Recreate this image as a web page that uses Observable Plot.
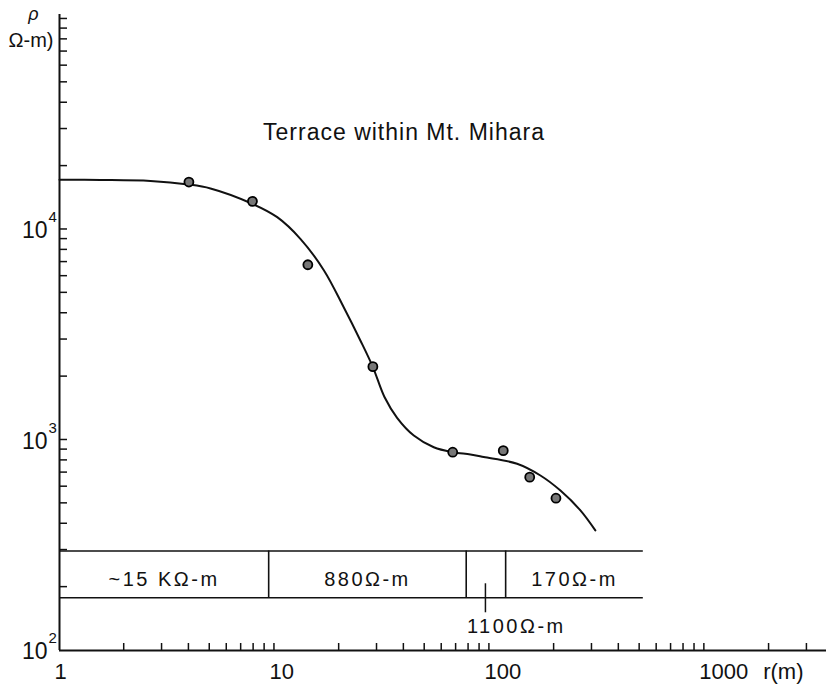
<!DOCTYPE html>
<html><head><meta charset="utf-8">
<script src="https://cdn.jsdelivr.net/npm/d3@7"></script>
<script src="https://cdn.jsdelivr.net/npm/@observablehq/plot@0.6"></script>
<style>html,body{margin:0;padding:0;background:#fff;} svg{display:block}</style>
</head><body><div id="chart"></div>
<script>
// ---- data ----
const title = "Terrace within Mt. Mihara";
const yLabelTop = "ρ";
const yLabelUnit = "Ω-m)";
const xUnit = "r(m)";

// observed apparent resistivity (points)
const obsR   = [4, 7.9, 14.3, 28.7, 67.5, 116, 154, 204];
const obsRho = [16800, 13600, 6800, 2230, 875, 890, 666, 529];

// theoretical (fitted) curve
const fitR   = [1, 1.55, 2.65, 3.97, 5.04, 7.88, 10.3, 13.2, 17.0, 21.0, 25.1, 28.7, 32.5, 37.2, 44.5, 55.1, 67.5, 81.6, 94.1, 134.5, 172.7, 214, 265, 311];
const fitRho = [17220, 17190, 17000, 16360, 15660, 13250, 11440, 9030, 6390, 4270, 2970, 2220, 1600, 1275, 1050, 924, 875, 853, 830, 771, 678, 575, 463, 372];

// layer model (boundaries in r, labels)
const layerBounds = [1, 9.4, 78, 119, 520];
const layerLabels = ["~15 KΩ-m", "880Ω-m", "1100Ω-m", "170Ω-m"];
const tableRho = [178, 297];   // extent of the layer strip on the rho axis

// axes
const xDomain = [1, 3700];
const yDomain = [100, 1.05e5];
const xMajor = [1, 10, 100, 1000];
const xTickLabels = ["1", "10", "100", "1000"];
const yMajor = [100, 1000, 10000];
const yExpLabels = ["2", "3", "4"];

// ---- derived ----
const ink = "#111";
const points = obsR.map((r, i) => ({r, rho: obsRho[i]}));
const fit = fitR.map((r, i) => ({r, rho: fitRho[i]}));
const layers = layerLabels.map((label, i) => ({
  label, from: layerBounds[i], to: layerBounds[i + 1],
  mid: Math.sqrt(layerBounds[i] * layerBounds[i + 1])
}));
const thinLayer = layers[2];
const bandLayers = layers.filter(d => d !== thinLayer);
const bandMid = Math.sqrt(tableRho[0] * tableRho[1]);

const xMinor = [];
for (const p of [1, 10, 100, 1000]) for (let k = 1; k <= 9; k++) { const v = k * p; if (v > 1 && v <= xDomain[1]) xMinor.push(v); }
const yMinor = [];
for (const p of [100, 1000, 10000, 100000]) for (let k = 1; k <= 9; k++) { const v = k * p; if (v > 100 && v <= yDomain[1]) yMinor.push(v); }

function ticksMark(index, scales) {
  const {x, y} = scales;
  const g = d3.create("svg:g").attr("stroke", ink).attr("stroke-width", 1.5).attr("fill", "none");
  const x0 = x(xDomain[0]), y0 = y(yDomain[0]);
  for (const v of xMinor) g.append("line").attr("x1", x(v)).attr("x2", x(v)).attr("y1", y0).attr("y2", y0 - 7);
  for (const v of yMinor) g.append("line").attr("x1", x0).attr("x2", x0 + 8).attr("y1", y(v)).attr("y2", y(v));
  const lx = x(thinLayer.mid);
  g.append("line").attr("x1", lx).attr("x2", lx).attr("y1", y(tableRho[0]) - 14).attr("y2", y(tableRho[0]) + 15);
  return g.node();
}

const chart = Plot.plot({
  width: 828, height: 687,
  marginLeft: 59, marginRight: 2, marginTop: 14, marginBottom: 37,
  x: {type: "log", domain: xDomain, axis: null},
  y: {type: "log", domain: yDomain, axis: null},
  style: {fontFamily: "'Liberation Sans', Arial, sans-serif", background: "white", color: ink},
  marks: [
    // layer strip
    Plot.ruleY(tableRho, {x1: layerBounds[0], x2: layerBounds[layerBounds.length - 1], stroke: ink, strokeWidth: 1.6}),
    Plot.ruleX(layerBounds.slice(1, -1), {y1: tableRho[0], y2: tableRho[1], stroke: ink, strokeWidth: 1.6}),
    Plot.text(bandLayers, {x: "mid", y: () => bandMid, text: "label", fontSize: 20, dy: 5, fill: ink}),
    Plot.text([thinLayer], {x: "mid", y: () => tableRho[0], text: "label", fontSize: 20, textAnchor: "start", dx: -19, dy: 29, fill: ink}),
    // ticks
    ticksMark,
    // axis lines
    Plot.ruleX([xDomain[0]], {y1: yDomain[0], y2: yDomain[1], stroke: ink, strokeWidth: 2}),
    Plot.ruleY([yDomain[0]], {x1: xDomain[0], x2: xDomain[1], stroke: ink, strokeWidth: 2}),
    // curve & points
    Plot.line(fit, {x: "r", y: "rho", curve: "catmull-rom", stroke: ink, strokeWidth: 2}),
    Plot.dot(points, {x: "r", y: "rho", r: 4.5, fill: "#777", stroke: "#000", strokeWidth: 1.8}),
    // axis tick labels
    Plot.text(xMajor, {x: d => d, y: () => yDomain[0], text: (d, i) => xTickLabels[i], textAnchor: "start", dx: -5, dy: 21, fontSize: 22, fill: ink}),
    Plot.text([xUnit], {x: () => xDomain[1], y: () => yDomain[0], text: d => d, textAnchor: "end", dx: -23, dy: 21, fontSize: 22, fill: ink}),
    Plot.text(yMajor, {x: () => xDomain[0], y: d => d, text: () => "10", textAnchor: "end", dx: -12, dy: 1.5, fontSize: 23, fill: ink}),
    Plot.text(yMajor, {x: () => xDomain[0], y: d => d, text: (d, i) => yExpLabels[i], textAnchor: "start", dx: -11, dy: -12, fontSize: 15, fill: ink}),
    // axis title
    Plot.text([yLabelUnit], {frameAnchor: "top-left", text: d => d, textAnchor: "end", lineAnchor: "middle", dx: -6, dy: 25.6, fontSize: 20, fill: ink}),
    Plot.text([yLabelTop], {frameAnchor: "top-left", text: d => d, textAnchor: "middle", lineAnchor: "middle", dx: -26, dy: -0.5, fontSize: 18, fontStyle: "italic", fill: ink}),
    // chart title
    Plot.text([title], {frameAnchor: "top-left", text: d => d, textAnchor: "middle", lineAnchor: "middle", dx: 344.5, dy: 118.6, fontSize: 23, fill: ink})
  ]
});

chart.querySelectorAll("text").forEach(t => {
  const s = t.textContent;
  if (layerLabels.includes(s)) t.style.letterSpacing = "2.5px";
  else if (s === title) t.style.letterSpacing = "1px";
});
document.getElementById("chart").appendChild(chart);
</script>
</body></html>
